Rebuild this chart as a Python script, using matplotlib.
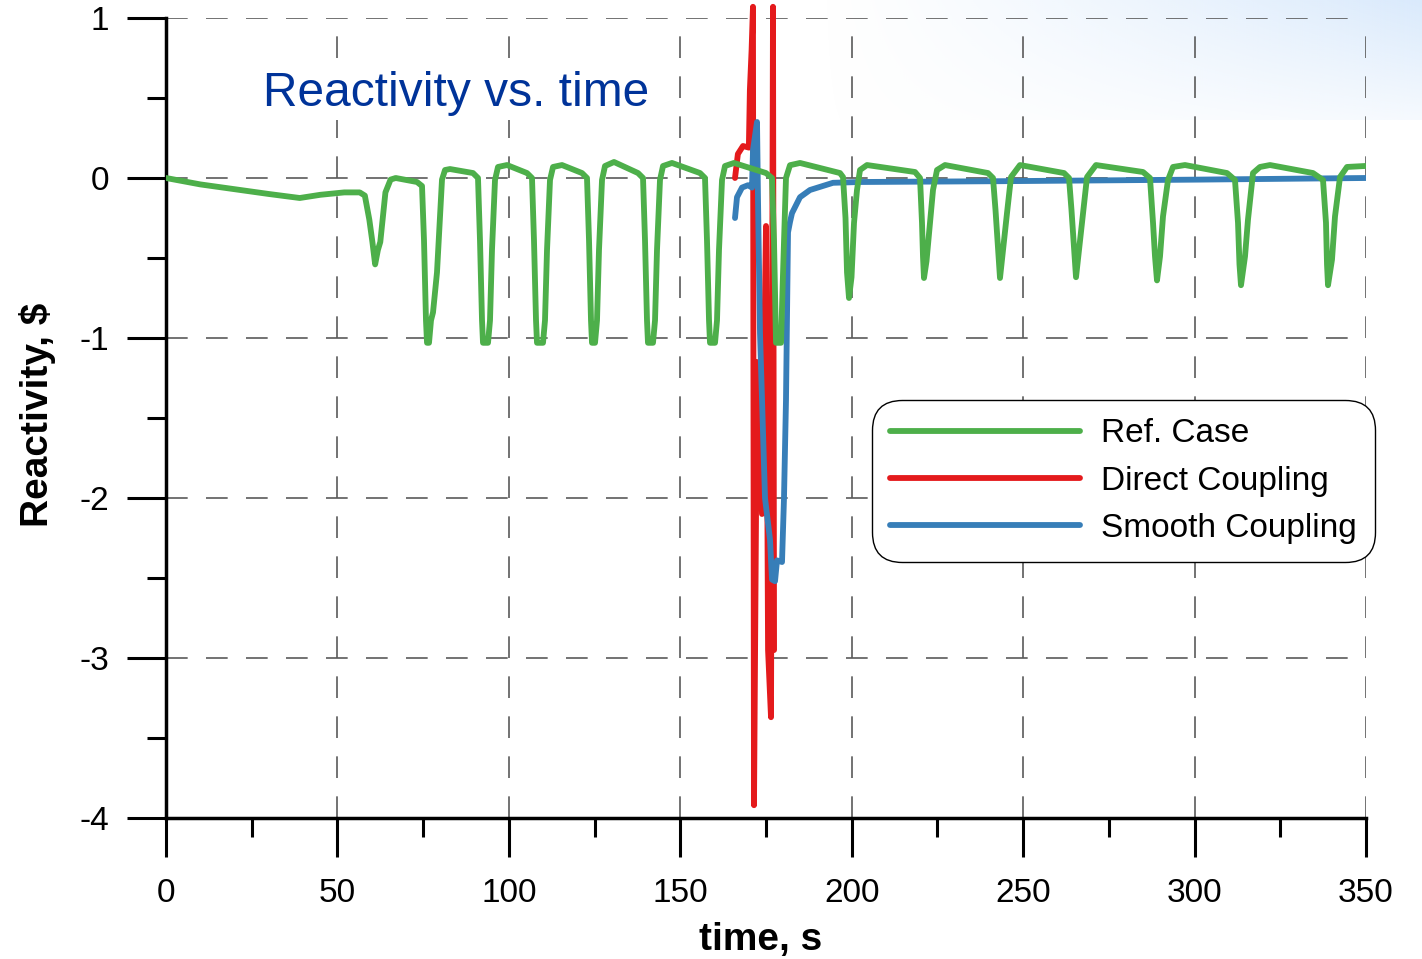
import numpy as np
import matplotlib.pyplot as plt
from matplotlib.ticker import MultipleLocator

plt.rcParams['font.family'] = ['Liberation Sans', 'DejaVu Sans']

# ---- Ref. Case (no coupling) ----
ref_t = [0.0, 10.0, 20.0, 30.0, 39.0, 45.0, 52.0, 56.5, 58.0,
         59.3, 60.2, 61.0, 61.8, 62.5, 64.0, 65.5, 67.0, 72.0,
         73.21, 74.67, 75.25, 75.83, 76.13, 76.71, 77.29, 77.88, 79.04, 80.50, 81.38, 82.83,
         89.54, 91.0, 91.58, 92.17, 92.46, 93.92, 94.5, 95.08, 95.96, 96.83, 99.46,
         105.29, 106.75, 107.33, 107.92, 108.21, 109.96, 110.54, 111.13, 112.0, 112.88, 115.5,
         121.33, 122.79, 123.38, 123.96, 124.25, 125.13, 125.71, 126.29, 127.17, 128.04, 130.67,
         137.67, 139.13, 139.71, 140.29, 140.58, 142.04, 142.63, 143.21, 144.08, 144.96, 147.58,
         155.75, 157.21, 157.79, 158.38, 158.67, 160.13, 160.71, 161.29, 162.17, 163.04, 165.67,
         175.0, 176.75, 177.33, 177.77, 177.92, 179.38, 179.96, 180.83, 182.0, 184.92,
         196.58, 197.46, 198.19, 198.63, 199.21, 199.94, 200.67, 201.54, 202.42, 204.46,
         218.46, 219.92, 220.5, 220.79, 221.08, 221.81, 222.83, 223.71, 224.88, 227.21,
         239.75, 241.21, 241.94, 242.52, 243.25, 244.13, 245.29, 246.46, 249.08,
         261.92, 263.38, 264.1, 264.69, 265.42, 266.29, 267.46, 268.63, 271.25,
         284.96, 287.0, 287.88, 288.46, 289.04, 289.92, 290.79, 292.25, 293.71, 297.21,
         309.46, 311.79, 312.67, 313.1, 313.54, 314.71, 315.58, 317.04, 319.08, 322.0,
         334.54, 337.46, 338.33, 338.63, 338.92, 340.08, 340.96, 342.42, 344.46, 349.71]
ref_rho = [0.0, -0.04, -0.07, -0.10, -0.125, -0.105, -0.09, -0.09, -0.11,
           -0.26, -0.40, -0.54, -0.45, -0.40, -0.09, -0.01, 0.0, -0.02,
           -0.025, -0.05, -0.39, -0.89, -1.03, -1.03, -0.89, -0.84, -0.59, -0.01, 0.05, 0.056,
           0.031, 0.0, -0.39, -0.89, -1.03, -1.03, -0.89, -0.45, -0.0125, 0.069, 0.081,
           0.031, 0.0, -0.39, -0.89, -1.03, -1.03, -0.89, -0.45, -0.0125, 0.069, 0.081,
           0.031, 0.0, -0.39, -0.89, -1.03, -1.03, -0.89, -0.45, -0.0125, 0.075, 0.10,
           0.031, 0.0, -0.39, -0.89, -1.03, -1.03, -0.89, -0.45, -0.0125, 0.075, 0.094,
           0.031, 0.0, -0.39, -0.89, -1.03, -1.03, -0.89, -0.45, -0.0125, 0.075, 0.094,
           0.031, 0.0, -0.39, -0.89, -1.03, -1.03, -0.60, 0.0, 0.08, 0.094,
           0.031, 0.006, -0.25, -0.59, -0.75, -0.62, -0.28, -0.075, 0.05, 0.081,
           0.0375, 0.0, -0.28, -0.49, -0.625, -0.52, -0.28, -0.075, 0.05, 0.081,
           0.031, 0.0, -0.20, -0.39, -0.625, -0.45, -0.22, 0.006, 0.081,
           0.031, 0.0, -0.20, -0.39, -0.62, -0.45, -0.22, 0.006, 0.081,
           0.0375, 0.0, -0.28, -0.49, -0.64, -0.49, -0.24, -0.0125, 0.069, 0.081,
           0.031, -0.0125, -0.28, -0.54, -0.67, -0.49, -0.26, 0.031, 0.069, 0.081,
           0.031, -0.0125, -0.28, -0.54, -0.67, -0.51, -0.24, 0.006, 0.069, 0.075]

# ---- Direct Coupling ----
direct_t = [165.96, 166.8, 168.3, 170.0, 170.3, 170.8, 171.2, 171.5, 172.4,
            173.83, 175.0, 175.6, 176.46, 177.04, 177.35]
direct_rho = [0.0, 0.15, 0.20, 0.19, 0.55, 0.80, 1.07, -3.92, -1.15,
              -2.10, -0.30, -2.95, -3.37, 1.07, -2.95]

# ---- Smooth Coupling ----
smooth_t = [165.96, 166.54, 168.0, 169.75, 170.92, 171.21, 172.38, 172.67, 173.25,
            174.71, 176.17, 176.75, 177.63, 178.21, 179.67, 180.25, 180.83, 181.42,
            182.0, 182.58, 184.92, 187.83, 194.54, 202.42, 243.25, 301.58, 350.0]
smooth_rho = [-0.25, -0.12, -0.06, -0.045, -0.06, 0.175, 0.35, -0.14, -0.97,
              -2.0, -2.26, -2.51, -2.52, -2.39, -2.40, -2.0, -1.39, -0.34,
              -0.275, -0.22, -0.12, -0.075, -0.03, -0.025, -0.02, -0.01, 0.0]

x_ticks = [0, 50, 100, 150, 200, 250, 300, 350]
y_ticks = [-4, -3, -2, -1, 0, 1]

W, H = 1422, 959
fig = plt.figure(figsize=(W / 100, H / 100), dpi=100)

# soft blue wash in the upper-right corner of the slide
bg = fig.add_axes([0, 0, 1, 1], zorder=-2)
bg.set_xlim(0, W)
bg.set_ylim(H, 0)
bg.axis('off')
gx = np.linspace(0, 1, 300)
gy = np.linspace(0, 1, 60)
GX, GY = np.meshgrid(gx, gy)
alpha = np.clip(GX ** 1.2 * (0.25 + 0.75 * (1 - GY)), 0, 1)
wash = np.zeros((60, 300, 4))
wash[..., 0] = 218 / 255
wash[..., 1] = 234 / 255
wash[..., 2] = 252 / 255
wash[..., 3] = alpha
bg.imshow(wash, extent=(820, W, 120, 0), aspect='auto', interpolation='bilinear')

ax = fig.add_axes([166 / W, 1 - 818 / H, 1200 / W, 800 / H])
ax.patch.set_alpha(0)

lw = 4.2
style = dict(lw=lw, solid_joinstyle='round', solid_capstyle='round')
ax.plot(direct_t, direct_rho, color='#e41a1c', label='Direct Coupling',
        clip_on=False, zorder=3, **style)
ax.plot(smooth_t, smooth_rho, color='#377eb8', label='Smooth Coupling',
        zorder=4, **style)
ax.plot(ref_t, ref_rho, color='#4daf4a', label='Ref. Case', zorder=5, **style)

ax.set_xlim(0, 350)
ax.set_ylim(-4, 1)
ax.set_xticks(x_ticks)
ax.set_yticks(y_ticks)
ax.set_xticklabels([str(v) for v in x_ticks])
ax.set_yticklabels([str(v) for v in y_ticks])
ax.xaxis.set_minor_locator(MultipleLocator(25))
ax.yaxis.set_minor_locator(MultipleLocator(0.5))

for side in ('top', 'right'):
    ax.spines[side].set_visible(False)
for side in ('left', 'bottom'):
    ax.spines[side].set_linewidth(2.5)

ax.tick_params(which='major', direction='out', length=28, width=2.2,
               labelsize=24, colors='black')
ax.tick_params(axis='x', which='major', pad=15)
ax.tick_params(axis='y', which='major', pad=13)
ax.tick_params(which='minor', direction='out', length=14, width=2.2)
ax.grid(True, which='major', color='#5a5a5a', linestyle=(0, (13, 11)), linewidth=1.2)
ax.set_axisbelow(True)

fig.text(263 / W, 1 - 106 / H, 'Reactivity vs. time', color='#003399',
         fontsize=34.5, ha='left', va='baseline', zorder=10,
         bbox=dict(facecolor='white', edgecolor='none', pad=3))
fig.text(38 / W, 1 - 415 / H, 'Reactivity, $', fontsize=28, fontweight='bold',
         rotation=90, ha='center', va='center')
fig.text(761 / W, 1 - 950 / H, 'time, s', fontsize=28, fontweight='bold',
         ha='center', va='baseline')

handles, labels = ax.get_legend_handles_labels()
order = [2, 0, 1]
leg = ax.legend([handles[i] for i in order], [labels[i] for i in order],
                loc='upper left', bbox_to_anchor=(872 / W, 1 - 400 / H),
                bbox_transform=fig.transFigure, borderaxespad=0,
                fontsize=24, handlelength=5.7, handletextpad=0.63,
                labelspacing=0.49, borderpad=0.55, frameon=True, fancybox=True,
                framealpha=1, edgecolor='black')
leg.get_frame().set_linewidth(1.0)
leg.get_frame().set_boxstyle('round', pad=0, rounding_size=0.9)

fig.savefig('out.png', dpi=100)
